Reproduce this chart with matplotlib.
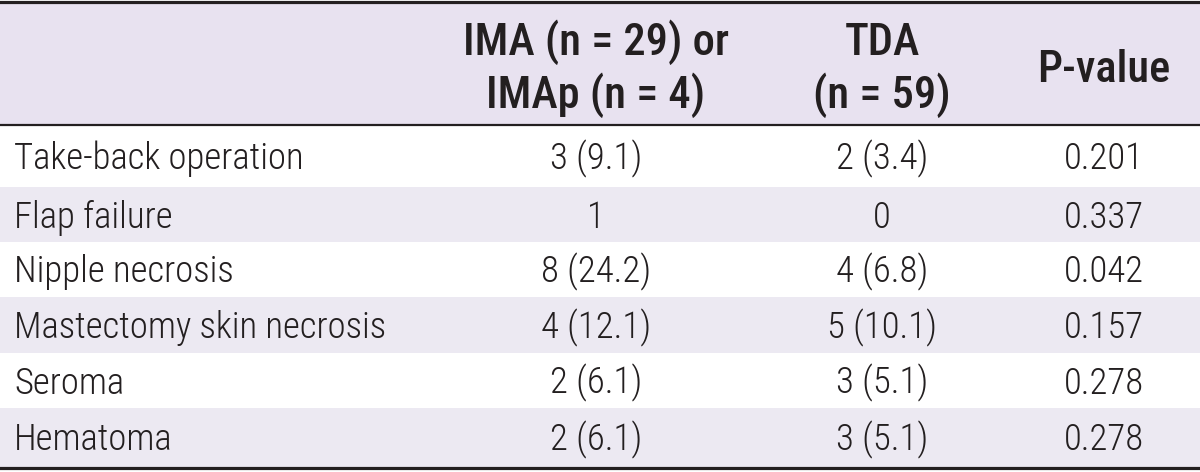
import matplotlib
matplotlib.use("Agg")
import matplotlib.pyplot as plt

# table content
complications = [
    "Take-back operation",
    "Flap failure",
    "Nipple necrosis",
    "Mastectomy skin necrosis",
    "Seroma",
    "Hematoma",
]
ima_vals = ["3 (9.1)", "1", "8 (24.2)", "4 (12.1)", "2 (6.1)", "2 (6.1)"]
tda_vals = ["2 (3.4)", "0", "4 (6.8)", "5 (10.1)", "3 (5.1)", "3 (5.1)"]
p_values = ["0.201", "0.337", "0.042", "0.157", "0.278", "0.278"]
headers = [None, ("IMA (n = 29) or", "IMAp (n = 4)"), ("TDA", "(n = 59)"), ("P-value",)]

FAMILY = ["Roboto Condensed", "DejaVu Sans"]
INK = "#231f20"
HEAD_BG = "#e8e2f0"
ROW_BG = "#ece9f2"

W, H = 1200, 472
fig = plt.figure(figsize=(W / 100, H / 100), dpi=100)
ax = fig.add_axes([0, 0, 1, 1])
ax.set_xlim(0, W)
ax.set_ylim(H, 0)
ax.axis("off")

head_top, head_bot = 3, 125
row_edges = [125, 187, 242, 297, 353, 408, 467]

ax.axhspan(head_top, head_bot, color=HEAD_BG, lw=0)
for i in range(len(complications)):
    if i % 2 == 1:
        ax.axhspan(row_edges[i], row_edges[i + 1], color=ROW_BG, lw=0)

ax.axhline(1.5, color=INK, lw=2.3)
ax.axhline(head_bot, color=INK, lw=1.6)
ax.axhline(467.5, color=INK, lw=2.3)

col_x = [14, 596, 882, 1104]

# header, one text per line so baselines can be placed
for x, lines in zip(col_x[1:], headers[1:]):
    baselines = [55, 108] if len(lines) == 2 else [82]
    for yb, txt in zip(baselines, lines):
        ax.text(x, yb, txt, ha="center", va="baseline", fontsize=32, fontweight="medium",
                family=FAMILY, color=INK)

# body
for i, (name, a, b, p) in enumerate(zip(complications, ima_vals, tda_vals, p_values)):
    yb = (row_edges[i] + row_edges[i + 1]) / 2 + 13
    ax.text(col_x[0], yb, name, ha="left", va="baseline", fontsize=26.5, fontweight="light",
            family=FAMILY, color=INK)
    for x, v in zip(col_x[1:], (a, b, p)):
        ax.text(x, yb, v, ha="center", va="baseline", fontsize=26.5, fontweight="light",
                family=FAMILY, color=INK)

fig.savefig("out.png", dpi=100)
